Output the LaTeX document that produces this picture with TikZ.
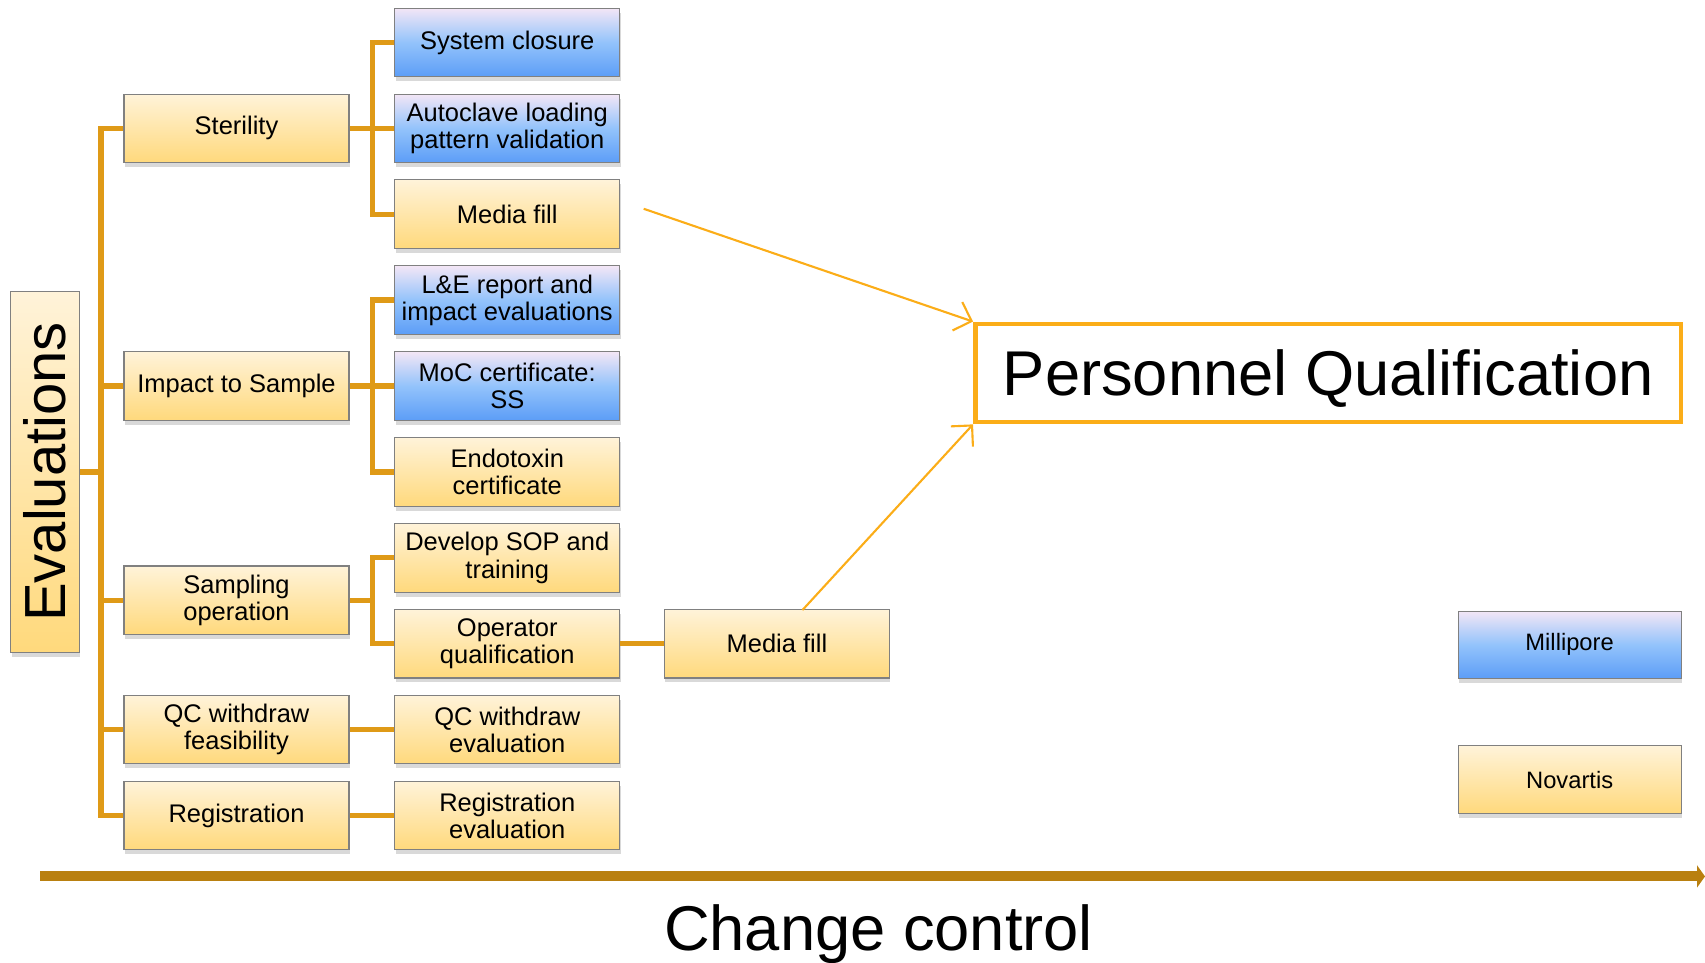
\documentclass[tikz,border=0pt]{standalone}
\usepackage{fontspec}
\setmainfont{Liberation Sans}
\usepackage{graphicx}
\usetikzlibrary{shadows,arrows.meta}

\definecolor{boxtop}{HTML}{FFF3D9}
\definecolor{boxbot}{HTML}{FFD97C}
\definecolor{bluetop}{HTML}{F3E6F6}
\definecolor{bluemid}{HTML}{93C3FB}
\definecolor{bluebot}{HTML}{5C9DF7}
\definecolor{linkcol}{HTML}{DF9A17}
\definecolor{pqcol}{HTML}{FBAD18}
\definecolor{ccol}{HTML}{B98010}

\tikzset{
  card/.style={draw=black!50, line width=0.6pt, minimum width=4.5cm, minimum height=1.37cm,
    align=center, inner sep=1pt, font=\fontsize{14.5}{15.5}\selectfont,
    drop shadow={shadow xshift=0.02cm, shadow yshift=-0.09cm, opacity=0.3}},
  gold/.style={card, top color=boxtop, bottom color=boxbot},
  sky/.style={card, top color=bluetop, bottom color=bluebot, middle color=bluemid},
  small/.style={minimum width=4.46cm, minimum height=1.35cm, font=\fontsize{13.5}{15}\selectfont},
  link/.style={linkcol, line width=3pt},
  pqarrow/.style={pqcol, line width=1.2pt, -{Straight Barb[length=3mm,width=6mm]}},
}

\begin{document}
\begin{tikzpicture}[x=0.021748cm, y=-0.021748cm]
  \useasboundingbox (0,0) rectangle (1568,885);

  % left column
  \node[gold, minimum width=1.37cm, minimum height=7.22cm, font=\fontsize{33}{36}\selectfont] (eval) at (41.5,434) {\rotatebox{90}{Evaluations}};
  \node[gold] (ster) at (217.5,118) {Sterility};
  \node[gold] (imp)  at (217.5,355) {Impact to Sample};
  \node[gold] (samp) at (217.5,552) {Sampling\\operation};
  \node[gold] (qcf)  at (217.5,671) {QC withdraw\\feasibility};
  \node[gold] (reg)  at (217.5,750) {Registration};

  % second column
  \node[sky]  (sys)  at (466.5,39)  {System closure};
  \node[sky]  (auto) at (466.5,118) {Autoclave loading\\pattern validation};
  \node[gold] (mf)   at (466.5,197) {Media fill};
  \node[sky]  (le)   at (466.5,276) {L\&E report and\\impact evaluations};
  \node[sky]  (moc)  at (466.5,355) {MoC certificate:\\SS};
  \node[gold] (endo) at (466.5,434) {Endotoxin\\certificate};
  \node[gold] (sop)  at (466.5,513) {Develop SOP and\\training};
  \node[gold] (opq)  at (466.5,592) {Operator\\qualification};
  \node[gold] (qce)  at (466.5,671) {QC withdraw\\evaluation};
  \node[gold] (rege) at (466.5,750) {Registration\\evaluation};

  \node[gold] (mf3)  at (714.5,592) {Media fill};

  % right side
  \node[draw=pqcol, line width=2.7pt, fill=white, minimum width=14.11cm, minimum height=1.96cm,
    text depth=0pt, font=\fontsize{36}{40}\selectfont] (pq) at (1221.5,343) {Personnel Qualification};
  \node[sky, small]  (mil) at (1443.5,593) {Millipore};
  \node[gold, small] (nov) at (1443.5,717) {Novartis};

  % tree links
  \coordinate (t1) at (93,434);
  \draw[link] (eval.east) -- (t1);
  \foreach \n in {ster,imp,samp,qcf,reg}
    \draw[link] (t1) |- (\n.west);
  \foreach \n in {sys,auto,mf}
    \draw[link] (ster.east) -- ++(21,0) |- (\n.west);
  \foreach \n in {le,moc,endo}
    \draw[link] (imp.east) -- ++(21,0) |- (\n.west);
  \foreach \n in {sop,opq}
    \draw[link] (samp.east) -- ++(21,0) |- (\n.west);
  \draw[link] (qcf.east) -- (qce.west);
  \draw[link] (reg.east) -- (rege.west);
  \draw[link] (opq.east) -- (mf3.west);

  % arrows to the qualification box
  \coordinate (a1) at (592,192);
  \coordinate (a2) at (738,561);
  \draw[pqarrow] (a1) -- (pq.north west);
  \draw[pqarrow] (a2) -- (pq.south west);

  % change control axis
  \coordinate (cc1) at (37,806);
  \coordinate (cc2) at (1568,806);
  \draw[ccol, line width=5.7pt, -{Triangle[length=1.6mm,width=4.4mm]}] (cc1) -- (cc2);
  \node[text depth=0pt, font=\fontsize{36}{40}\selectfont] (cc) at (808,853) {Change control};
\end{tikzpicture}
\end{document}
